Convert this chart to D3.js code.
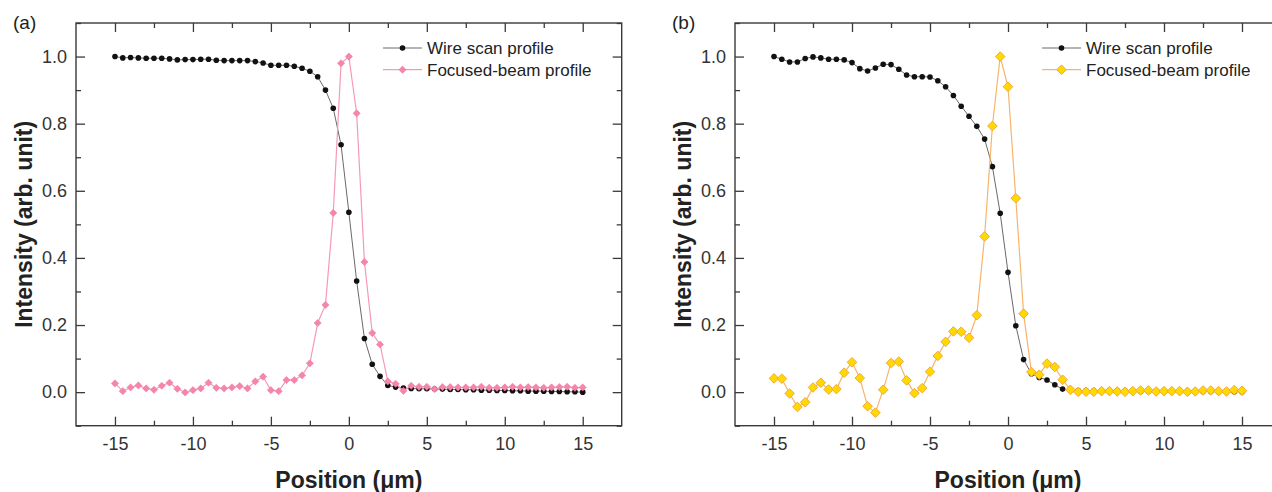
<!DOCTYPE html>
<html>
<head>
<meta charset="utf-8">
<script src="https://d3js.org/d3.v7.min.js"></script>
<style>
	body{
		margin:0;
		background:#fff;
	}
	svg{
		display:block;
		font-family:"Liberation Sans", Arial, sans-serif;
	}
	.frame{
		fill:none;
		stroke:#3a3a3a;
		stroke-width:1.4;
	}
	.tick line{
		stroke:#3a3a3a;
		stroke-width:1.3;
	}
	.tick text{
		fill:#333;
		font-size:18px;
	}
	.axis-title{
		font-size:23px;
		font-weight:bold;
		fill:#222;
	}
	.legend text{
		font-size:17px;
		fill:#222;
	}
</style>
</head>
<body>
<div id="container"></div>

<script type="text/javascript">

// x positions (um), shared by all four series
var positions = [-15,-14.5,-14,-13.5,-13,-12.5,-12,-11.5,-11,-10.5,
	-10,-9.5,-9,-8.5,-8,-7.5,-7,-6.5,-6,-5.5,
	-5,-4.5,-4,-3.5,-3,-2.5,-2,-1.5,-1,-0.5,
	0,0.5,1,1.5,2,2.5,3,3.5,4,4.5,
	5,5.5,6,6.5,7,7.5,8,8.5,9,9.5,
	10,10.5,11,11.5,12,12.5,13,13.5,14,14.5,
	15];

// panel (a)
var wireA = [1.000,0.996,0.997,0.996,0.995,0.995,0.995,0.993,0.990,0.991,
	0.991,0.992,0.992,0.989,0.988,0.988,0.988,0.988,0.985,0.981,
	0.974,0.974,0.974,0.971,0.965,0.956,0.940,0.900,0.846,0.737,
	0.536,0.331,0.160,0.083,0.047,0.020,0.015,0.012,0.011,0.010,
	0.010,0.009,0.009,0.008,0.008,0.007,0.007,0.006,0.006,0.005,
	0.005,0.004,0.004,0.003,0.003,0.003,0.002,0.002,0.001,0.001,
	0.000];
var focusA = [0.026,0.003,0.014,0.020,0.011,0.007,0.019,0.028,0.010,-0.001,
	0.006,0.011,0.028,0.013,0.011,0.014,0.018,0.011,0.032,0.046,
	0.006,0.003,0.036,0.036,0.050,0.086,0.206,0.260,0.534,0.980,
	1.000,0.831,0.388,0.176,0.142,0.032,0.025,0.004,0.019,0.016,
	0.016,0.009,0.015,0.015,0.014,0.014,0.014,0.016,0.013,0.013,
	0.014,0.016,0.014,0.015,0.014,0.013,0.014,0.015,0.016,0.013,
	0.014];

// panel (b)
var wireB = [1.000,0.992,0.984,0.984,0.994,0.999,0.996,0.992,0.992,0.990,
	0.982,0.964,0.957,0.966,0.977,0.976,0.962,0.945,0.940,0.940,
	0.939,0.928,0.910,0.884,0.852,0.822,0.792,0.754,0.672,0.533,
	0.357,0.198,0.097,0.055,0.044,0.036,0.022,0.009,0.006,0.005,
	0.005,0.004,0.004,0.004,0.004,0.004,0.003,0.003,0.003,0.003,
	0.003,0.003,0.002,0.002,0.002,0.002,0.002,0.001,0.001,0.001,
	0.001];
var focusB = [0.041,0.040,-0.004,-0.044,-0.030,0.014,0.028,0.008,0.009,0.058,
	0.089,0.042,-0.042,-0.061,0.007,0.087,0.091,0.035,-0.003,0.012,
	0.061,0.108,0.150,0.181,0.180,0.162,0.229,0.464,0.793,1.000,
	0.910,0.578,0.234,0.060,0.052,0.085,0.075,0.037,0.007,0.001,
	0.001,0.001,0.003,0.003,0.002,0.001,0.003,0.005,0.005,0.002,
	0.003,0.003,0.003,0.001,0.002,0.005,0.005,0.003,0.002,0.006,
	0.004];

var xMajor = [-15,-10,-5,0,5,10,15];
var xMinor = [-12.5,-7.5,-2.5,2.5,7.5,12.5];
var yMajor = [0,0.2,0.4,0.6,0.8,1.0];
var yMinor = [-0.1,0.1,0.3,0.5,0.7,0.9,1.1];
var seriesNames = ["Wire scan profile","Focused-beam profile"];

var W = 1272, H = 492;

var svg = d3.select("#container")
	.append("svg")
	.attr("width", W)
	.attr("height", H);

svg.append("rect").attr("width", W).attr("height", H).attr("fill", "#fff");

var yScale = d3.scaleLinear().domain([-0.1, 1.1]).range([425.7, 23]);

function drawPanel(left, right, label, wire, focus, style) {
	var x = d3.scaleLinear().domain([-17.5, 17.5]).range([left, right]);
	var top = yScale.range()[1], bottom = yScale.range()[0];
	var g = svg.append("g");

	// ticks (all pointing inward)
	g.append("g").attr("transform", "translate(0," + bottom + ")")
		.call(d3.axisBottom(x).tickValues(xMajor).tickSize(-9).tickPadding(12)
			.tickFormat(function(d){ return d3.format("d")(d).replace("−", "-"); }));
	g.append("g").attr("transform", "translate(0," + bottom + ")")
		.call(d3.axisBottom(x).tickValues(xMinor).tickSize(-5).tickFormat(""));
	g.append("g").attr("transform", "translate(0," + top + ")")
		.call(d3.axisTop(x).tickValues(xMajor).tickSize(-9).tickFormat(""));
	g.append("g").attr("transform", "translate(0," + top + ")")
		.call(d3.axisTop(x).tickValues(xMinor).tickSize(-5).tickFormat(""));
	g.append("g").attr("transform", "translate(" + left + ",0)")
		.call(d3.axisLeft(yScale).tickValues(yMajor).tickSize(-9).tickPadding(9)
			.tickFormat(d3.format(".1f")));
	g.append("g").attr("transform", "translate(" + left + ",0)")
		.call(d3.axisLeft(yScale).tickValues(yMinor).tickSize(-5).tickFormat(""));
	g.append("g").attr("transform", "translate(" + right + ",0)")
		.call(d3.axisRight(yScale).tickValues(yMajor).tickSize(-9).tickFormat(""));
	g.append("g").attr("transform", "translate(" + right + ",0)")
		.call(d3.axisRight(yScale).tickValues(yMinor).tickSize(-5).tickFormat(""));
	g.selectAll(".domain").remove();

	g.append("rect").attr("class", "frame")
		.attr("x", left).attr("y", top)
		.attr("width", right - left).attr("height", bottom - top);

	var line = d3.line()
		.x(function(d, i){ return x(positions[i]); })
		.y(function(d){ return yScale(d); });

	// wire scan
	g.append("path").datum(wire)
		.attr("d", line)
		.attr("fill", "none")
		.attr("stroke", "#6a6a6a")
		.attr("stroke-width", 1);
	g.selectAll("circle.wire").data(wire).enter()
		.append("circle").attr("class", "wire")
		.attr("cx", function(d, i){ return x(positions[i]); })
		.attr("cy", function(d){ return yScale(d); })
		.attr("r", 2.8)
		.attr("fill", "#111");

	// focused beam
	var diamond = d3.symbol().type(d3.symbolSquare).size(style.size);
	g.append("path").datum(focus)
		.attr("d", line)
		.attr("fill", "none")
		.attr("stroke", style.line)
		.attr("stroke-width", 1.2);
	g.selectAll("path.focus").data(focus).enter()
		.append("path").attr("class", "focus")
		.attr("d", diamond)
		.attr("transform", function(d, i){
			return "translate(" + x(positions[i]) + "," + yScale(d) + ") rotate(45)";
		})
		.attr("fill", style.fill)
		.attr("stroke", style.stroke)
		.attr("stroke-width", style.strokeWidth);

	// legend
	var lx = left + 307, ly = 48;
	var leg = g.append("g").attr("class", "legend");
	leg.append("line").attr("x1", lx).attr("x2", lx + 39).attr("y1", ly).attr("y2", ly)
		.attr("stroke", "#6a6a6a").attr("stroke-width", 1);
	leg.append("circle").attr("cx", lx + 19.5).attr("cy", ly).attr("r", 2.8).attr("fill", "#111");
	leg.append("text").attr("x", lx + 44).attr("y", ly).attr("dy", "0.35em").text(seriesNames[0]);
	leg.append("line").attr("x1", lx).attr("x2", lx + 39).attr("y1", ly + 21.7).attr("y2", ly + 21.7)
		.attr("stroke", style.line).attr("stroke-width", 1.2);
	leg.append("path").attr("d", diamond)
		.attr("transform", "translate(" + (lx + 19.5) + "," + (ly + 21.7) + ") rotate(45)")
		.attr("fill", style.fill)
		.attr("stroke", style.stroke)
		.attr("stroke-width", style.strokeWidth);
	leg.append("text").attr("x", lx + 44).attr("y", ly + 21.7).attr("dy", "0.35em").text(seriesNames[1]);

	// axis titles
	g.append("text").attr("class", "axis-title")
		.attr("x", (left + right) / 2).attr("y", 488)
		.attr("text-anchor", "middle")
		.text("Position (\u03bcm)");
	g.append("text").attr("class", "axis-title")
		.attr("transform", "translate(" + (left - 44) + "," + ((top + bottom) / 2) + ") rotate(-90)")
		.attr("text-anchor", "middle")
		.text("Intensity (arb. unit)");

	// panel label
	g.append("text")
		.attr("x", left - 63).attr("y", 29)
		.attr("font-size", 19).attr("fill", "#222")
		.text(label);
}

drawPanel(76, 621.7, "(a)", wireA, focusA,
	{ line: "#f59ab3", fill: "#f585a9", stroke: "#f07aa0", strokeWidth: 0.5, size: 26 });
drawPanel(735, 1281, "(b)", wireB, focusB,
	{ line: "#f7b46a", fill: "#ffd900", stroke: "#f2a43a", strokeWidth: 0.9, size: 46 });

</script>
</body>
</html>
